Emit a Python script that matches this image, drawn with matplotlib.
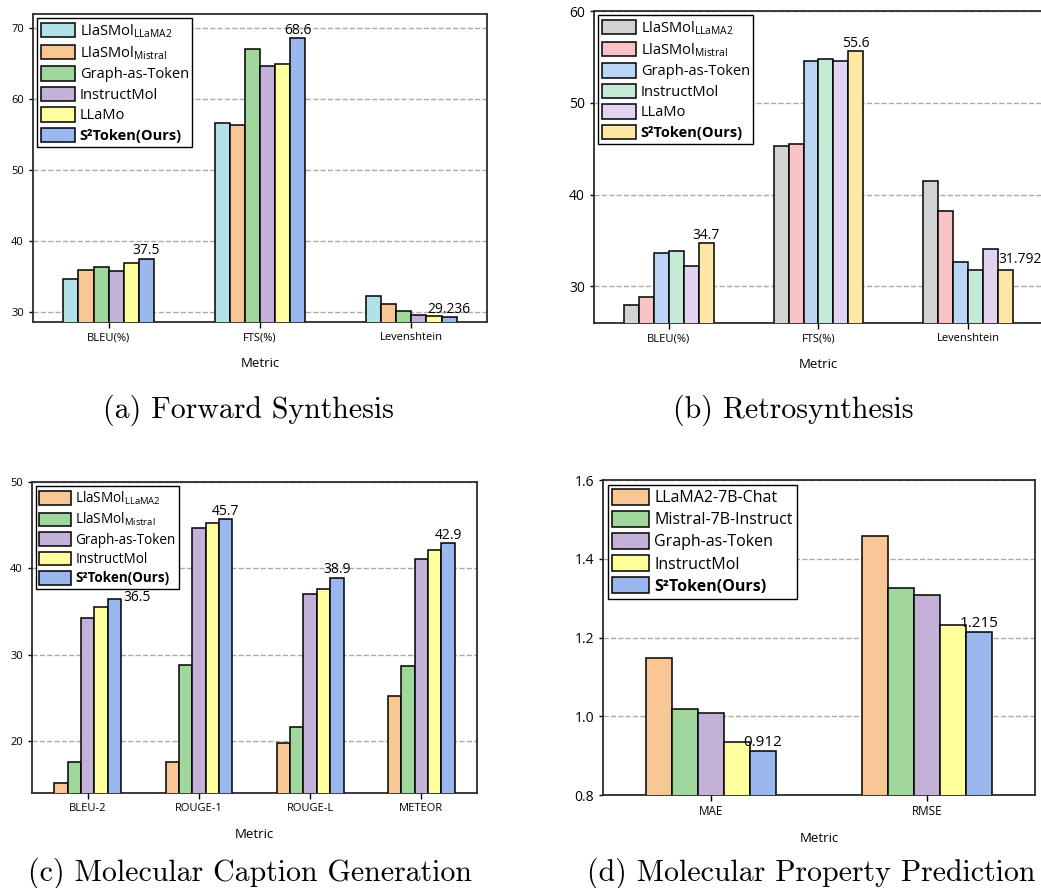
import numpy as np
import matplotlib
matplotlib.use("Agg")
import matplotlib.pyplot as plt

plt.rcParams['font.family'] = ['Open Sans', 'DejaVu Sans']
plt.rcParams['mathtext.fontset'] = 'custom'
plt.rcParams['mathtext.rm'] = 'Open Sans'

# ---- data ----
# (a) forward synthesis
metrics_a = ['BLEU(%)', 'FTS(%)', 'Levenshtein']
models_a = ['LlaSMol$_{\\mathregular{LLaMA2}}$', 'LlaSMol$_{\\mathregular{Mistral}}$',
            'Graph-as-Token', 'InstructMol', 'LLaMo', 'S²Token(Ours)']
vals_a = [[34.7, 56.6, 32.3],
          [35.9, 56.3, 31.1],
          [36.4, 67.0, 30.2],
          [35.8, 64.7, 29.6],
          [36.9, 65.0, 29.4],
          [37.5, 68.6, 29.236]]
colors_a = ['#b2e2e8', '#f9c796', '#a0d79d', '#c3b1d8', '#ffff9e', '#9ab8ee']

# (b) retrosynthesis
metrics_b = ['BLEU(%)', 'FTS(%)', 'Levenshtein']
models_b = models_a
vals_b = [[28.0, 45.3, 41.5],
          [28.8, 45.5, 38.2],
          [33.6, 54.5, 32.6],
          [33.9, 54.8, 31.8],
          [32.2, 54.5, 34.1],
          [34.7, 55.6, 31.792]]
colors_b = ['#d2d2d2', '#f9c2c5', '#bbd5f5', '#c3ebd6', '#e2d3f0', '#ffe8a5']

# (c) molecular caption generation
metrics_c = ['BLEU-2', 'ROUGE-1', 'ROUGE-L', 'METEOR']
models_c = ['LlaSMol$_{\\mathregular{LLaMA2}}$', 'LlaSMol$_{\\mathregular{Mistral}}$',
            'Graph-as-Token', 'InstructMol', 'S²Token(Ours)']
vals_c = [[15.2, 17.6, 19.8, 25.2],
          [17.6, 28.8, 21.6, 28.7],
          [34.3, 44.7, 37.0, 41.1],
          [35.5, 45.3, 37.6, 42.1],
          [36.5, 45.7, 38.9, 42.9]]
colors_c = ['#f9c796', '#a0d79d', '#c3b1d8', '#ffff9e', '#9ab8ee']

# (d) molecular property prediction
metrics_d = ['MAE', 'RMSE']
models_d = ['LLaMA2-7B-Chat', 'Mistral-7B-Instruct', 'Graph-as-Token',
            'InstructMol', 'S²Token(Ours)']
vals_d = [[1.147, 1.459],
          [1.018, 1.325],
          [1.009, 1.307],
          [0.935, 1.231],
          [0.912, 1.215]]
colors_d = colors_c


def draw(ax, metrics, models, vals, colors, width, ylim, yticks,
         leg_fs, tick_fs, ylab_fs, val_fs, label_mode):
    x = np.arange(len(metrics))
    n = len(models)
    for i in range(n):
        ax.bar(x + (i - (n - 1) / 2) * width, vals[i], width, color=colors[i],
               edgecolor='black', linewidth=1.1, label=models[i], zorder=3)
    # value labels on our model's bars
    last = vals[-1]
    xl = x + (n - 1) / 2 * width
    span = ylim[1] - ylim[0]
    for j, v in enumerate(last):
        mode = label_mode.get(j, 'top')
        if mode == 'top':
            ax.text(xl[j], v + span * 0.002, f'{v}', ha='center', va='bottom',
                    fontsize=val_fs, zorder=6)
        elif mode == 'right':
            ax.text(xl[j] + width / 2 + 0.02, v + span * 0.004, f'{v}', ha='left',
                    va='center', fontsize=val_fs, zorder=6)
        elif mode == 'leftedge':
            ax.text(xl[j] - width / 2, v + span * 0.01, f'{v}', ha='left',
                    va='bottom', fontsize=val_fs, zorder=6)
    ax.set_xticks(x)
    ax.set_xticklabels(metrics, fontsize=tick_fs)
    ax.set_xlim(-0.5, len(metrics) - 0.5)
    ax.set_ylim(*ylim)
    ax.set_yticks(yticks)
    ax.tick_params(axis='y', labelsize=ylab_fs, length=3, width=1)
    ax.tick_params(axis='x', length=4, width=1)
    ax.yaxis.grid(True, linestyle='--', color='#aaaaaa', linewidth=1)
    ax.set_axisbelow(True)
    for s in ax.spines.values():
        s.set_color('#2b2b2b')
        s.set_linewidth(1.3)
    ax.set_xlabel('Metric', fontsize=9.5, labelpad=10)
    leg = ax.legend(loc='upper left', fontsize=leg_fs, fancybox=False,
                    edgecolor='black', framealpha=1, borderpad=0.25,
                    labelspacing=0.3, handlelength=2.3, handleheight=1.15,
                    handletextpad=0.35, borderaxespad=0.3)
    leg.set_zorder(5)
    leg.get_frame().set_linewidth(1.0)
    leg.get_texts()[-1].set_fontweight('bold')


fig = plt.figure(figsize=(10.41, 8.88), dpi=100)
W, H = 1041, 888


def place(l, t, r, b):
    return fig.add_axes([l / W, 1 - b / H, (r - l) / W, (b - t) / H])


ax_a = place(33, 14, 487, 322)
ax_b = place(594, 11, 1043, 323)
ax_c = place(32, 482, 477, 793)
ax_d = place(603, 480, 1035, 795)

draw(ax_a, metrics_a, models_a, vals_a, colors_a, 0.1, (28.6, 72.0),
     [30, 40, 50, 60, 70], 10.5, 8, 8, 10, {})
draw(ax_b, metrics_b, models_b, vals_b, colors_b, 0.1, (26.0, 60.0),
     [30, 40, 50, 60], 10.5, 8, 10, 10, {2: 'leftedge'})
draw(ax_c, metrics_c, models_c, vals_c, colors_c, 0.12, (14.0, 50.0),
     [20, 30, 40, 50], 9.75, 8, 8, 10, {0: 'right'})
draw(ax_d, metrics_d, models_d, vals_d, colors_d, 0.12, (0.8, 1.6),
     [0.8, 1.0, 1.2, 1.4, 1.6], 11.5, 8.5, 10, 11, {})
ax_d.yaxis.set_major_formatter(matplotlib.ticker.FormatStrFormatter('%.1f'))

captions = ['(a) Forward Synthesis', '(b) Retrosynthesis',
            '(c) Molecular Caption Generation', '(d) Molecular Property Prediction']
cap_pos = [(248, 410), (793, 410), (250, 873), (811, 873)]
for c, (px, py) in zip(captions, cap_pos):
    fig.text(px / W, 1 - py / H, c, fontfamily='cmr10', fontsize=21.5,
             ha='center', va='center')

fig.savefig('out.png', dpi=100)
